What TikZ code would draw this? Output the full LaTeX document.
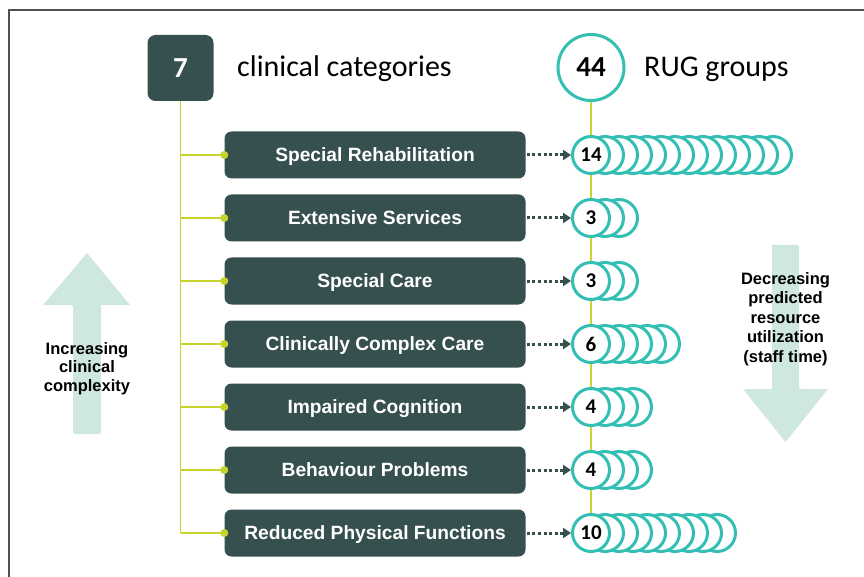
\documentclass[tikz,border=0pt]{standalone}
\usepackage{fontspec}
\setmainfont{Liberation Sans}
\newfontfamily\calibri{Carlito}
\usetikzlibrary{arrows.meta}
\definecolor{darkteal}{RGB}{54,80,79}
\definecolor{ringteal}{RGB}{52,191,180}
\definecolor{lime}{RGB}{200,212,46}
\definecolor{mint}{RGB}{207,231,225}
\definecolor{framegray}{RGB}{80,80,80}
\pgfdeclarelayer{bg}
\pgfsetlayers{bg,main}
\begin{document}
\begin{tikzpicture}[x=1pt,y=-1pt,
  catbox/.style={fill=darkteal, rounded corners=7pt, minimum width=301pt, minimum height=47pt,
    text=white, font=\bfseries\fontsize{19.2}{22}\selectfont, inner sep=0pt,
    text height=13.8pt, text depth=0pt},
  ring/.style={circle, draw=ringteal, line width=3pt, fill=white, minimum size=37pt, inner sep=0pt,
    font=\calibri\bfseries\fontsize{21}{24}\selectfont},
  bigring/.style={circle, draw=ringteal, line width=3pt, fill=white, minimum size=66pt, inner sep=0pt,
    font=\calibri\bfseries\fontsize{29}{32}\selectfont},
  headbox/.style={fill=darkteal, rounded corners=8pt, minimum width=66pt, minimum height=66pt,
    text=white, inner sep=0pt, font=\calibri\bfseries\fontsize{29}{32}\selectfont},
  headtext/.style={font=\calibri\fontsize{30}{36}\selectfont, anchor=base west, inner sep=0pt},
  stem/.style={draw=lime, line width=1.5pt},
  dot/.style={circle, fill=lime, minimum size=8pt, inner sep=0pt},
  pointer/.style={draw=darkteal, line width=3pt, dash pattern=on 3pt off 2.6pt, shorten <=1pt,
    -{Triangle[length=8pt,width=10pt]}},
  sidetext/.style={align=center, font=\bfseries\fontsize{16.5}{18.5}\selectfont, inner sep=0pt},
]
\useasboundingbox (0,0) rectangle (864,577);
\draw[framegray, line width=2pt] (9,577) -- (9,10) -- (864,10);

% headers
\node[headbox] (seven) at (180.5,68) {7};
\node[headtext] (cc) at (237,77) {clinical categories};
\node[bigring] (rug) at (591,67.5) {44};
\node[headtext] (rg) at (644,77) {RUG groups};

% rows
\foreach \yy/\n/\txt [count=\i] in {155/14/Special Rehabilitation, 218/3/Extensive Services,
  281/3/Special Care, 344/6/Clinically Complex Care, 407/4/Impaired Cognition,
  470/4/Behaviour Problems, 533/10/Reduced Physical Functions}{
  \node[catbox] (c\i) at (375,\yy) {\txt};
  \node[dot] (d\i) at (c\i.west) {};
  \pgfmathtruncatemacro\m{\n-1}
  \foreach \k in {\m,...,1}{
    \node[ring] (g\i-\k) at ({591+14*\k},\yy) {};
  }
  \node[ring] (g\i) at (591,\yy) {\n};
  \draw[pointer] (c\i.east) -- (g\i.west);
}

% side arrows
\fill[mint, rounded corners=2pt] (73,434) -- (73,305) [sharp corners] -- (43,305) -- (87,253) -- (130,305) -- (101,305) [rounded corners=2pt] -- (101,434) -- cycle;
\node[sidetext] (inc) at (87,368.5) {Increasing\\clinical\\complexity};

\fill[mint, rounded corners=2pt] (772,245) -- (799,245) -- (799,389) [sharp corners] -- (828,389) -- (785.5,442) -- (743,389) -- (772,389) -- cycle;
\node[sidetext, font=\bfseries\fontsize{16.5}{19.5}\selectfont] (dec) at (785.5,319) {Decreasing\\predicted\\resource\\utilization\\(staff time)};

\begin{pgfonlayer}{bg}
  \draw[stem] (seven.south) -- (seven.south |- c7.west);
  \foreach \i in {1,...,7} \draw[stem] (seven.south |- c\i.west) -- (c\i.west);
  \draw[stem] (rug.south) -- (g7.center);
\end{pgfonlayer}
\end{tikzpicture}
\end{document}
